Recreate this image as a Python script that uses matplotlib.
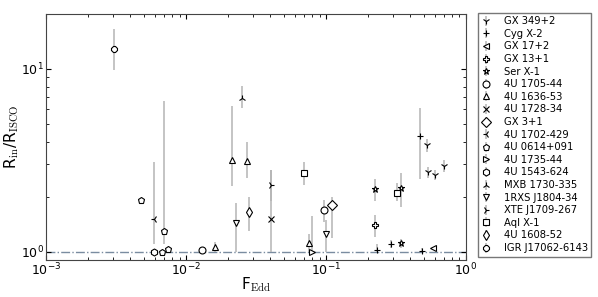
import numpy as np
import matplotlib
matplotlib.use('Agg')
import matplotlib.pyplot as plt

plt.rcParams['mathtext.fontset'] = 'cm'
plt.rcParams['xtick.direction'] = 'in'
plt.rcParams['ytick.direction'] = 'in'
plt.rcParams['xtick.top'] = True
plt.rcParams['ytick.right'] = True

# one entry per source: F_Edd, R_in/R_ISCO and lower/upper ends of the error bar
names = ['GX 349+2', 'Cyg X-2', 'GX 17+2', 'GX 13+1', 'Ser X-1', '4U 1705-44',
         '4U 1636-53', '4U 1728-34', 'GX 3+1', '4U 1702-429', '4U 0614+091',
         '4U 1735-44', '4U 1543-624', 'MXB 1730-335', '1RXS J1804-34',
         'XTE J1709-267', 'Aql X-1', '4U 1608-52', 'IGR J17062-6143']
markers = ['1', '+', '<', 'P', '*', 'o', '^', 'x', 'D', '3', 'p', '>', 'h', '2',
           'v', '4', 's', 'd', '8']

fedd = [[0.524, 0.537, 0.601, 0.697],
        [0.230, 0.291, 0.469, 0.483],
        [0.578],
        [0.224],
        [0.224, 0.342, 0.342],
        [0.0964, 0.0131],
        [0.0161, 0.0213, 0.0274, 0.076],
        [0.0403],
        [0.110],
        [0.00594],
        [0.00474, 0.0070, 0.00674, 0.00748],
        [0.0798],
        [0.00594],
        [0.0251],
        [0.0228, 0.1005],
        [0.0403],
        [0.070, 0.32],
        [0.0281],
        [0.00305]]
rin = [[3.84, 2.74, 2.63, 2.95],
       [1.02, 1.096, 4.31, 1.01],
       [1.04],
       [1.39],
       [2.19, 1.11, 2.23],
       [1.69, 1.02],
       [1.056, 3.17, 3.12, 1.117],
       [1.50],
       [1.79],
       [1.50],
       [1.92, 1.29, 1.00, 1.03],
       [1.00],
       [1.00],
       [6.97],
       [1.43, 1.25],
       [2.30],
       [2.70, 2.09],
       [1.64],
       [12.8]]
rin_lo = [[3.50, 2.52, 2.45, 2.74],
          [1.00, 1.05, 2.49, 1.00],
          [1.02],
          [1.20],
          [1.89, 1.04, 1.76],
          [1.45, 1.00],
          [1.00, 2.28, 2.52, 1.00],
          [1.00],
          [1.19],
          [1.10],
          [1.92, 1.10, 1.00, 1.03],
          [1.00],
          [1.00],
          [6.10],
          [1.00, 1.00],
          [1.90],
          [2.30, 1.90],
          [1.30],
          [9.9]]
rin_hi = [[4.13, 2.91, 2.80, 3.16],
          [1.10, 1.15, 6.10, 1.05],
          [1.06],
          [1.59],
          [2.49, 1.17, 2.68],
          [1.92, 1.04],
          [1.13, 6.28, 3.97, 1.25],
          [2.80],
          [1.99],
          [3.10],
          [1.92, 6.68, 1.00, 1.03],
          [1.57],
          [1.00],
          [8.08],
          [1.84, 1.49],
          [2.80],
          [3.10, 2.37],
          [1.99],
          [16.5]]

fig = plt.figure(figsize=(5.98, 2.97), dpi=100)
ax = fig.add_axes([0.077, 0.125, 0.702, 0.828])

for name, m, x, y, lo, hi in zip(names, markers, fedd, rin, rin_lo, rin_hi):
    x = np.array(x)
    y = np.array(y)
    yerr = [y - np.array(lo), np.array(hi) - y]
    ax.errorbar(x, y, yerr=yerr, fmt=m, ms=5, mfc='white', mec='black',
                mew=0.8, ecolor='#b4b4b4', elinewidth=1.1, capsize=0,
                label=name)

ax.axhline(1.0, color='#7a8ca0', ls='-.', lw=1.0, zorder=0)

ax.set_xscale('log')
ax.set_yscale('log')
ax.set_xlim(1e-3, 1)
ax.set_ylim(0.9, 20)
ax.set_xlabel(r'F$_{\rm Edd}$', fontsize=11, labelpad=-2)
ax.set_ylabel(r'R$_{\rm in}$/R$_{\rm ISCO}$', fontsize=11, labelpad=0)
ax.tick_params(labelsize=9, pad=1.5)
for s in ax.spines.values():
    s.set_color('#444444')

fig.legend(loc='upper left', bbox_to_anchor=(0.799, 0.957), fontsize=7.2,
           labelspacing=0.26, handlelength=0.95, handletextpad=1.3,
           borderaxespad=0, fancybox=False, edgecolor='#777777',
           framealpha=1, borderpad=0.35)

fig.savefig('out.png', dpi=100)
